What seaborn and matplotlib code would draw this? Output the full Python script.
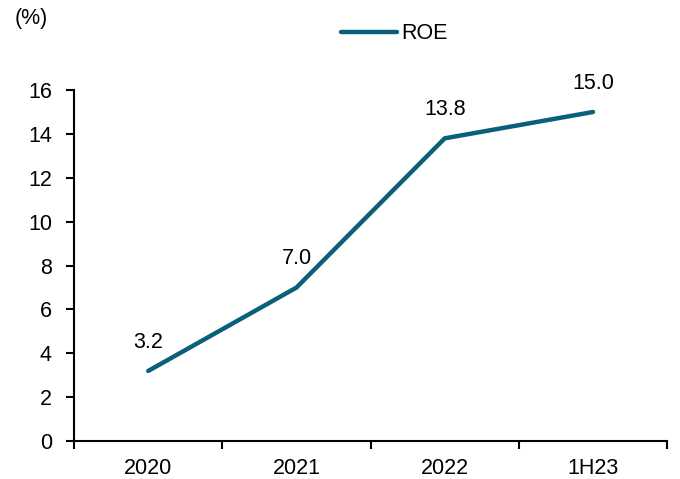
import matplotlib
matplotlib.use("Agg")
import matplotlib.pyplot as plt
import seaborn as sns
import pandas as pd

# Data
periods = ["2020", "2021", "2022", "1H23"]
roe = [3.2, 7.0, 13.8, 15.0]
y_ticks = [0, 2, 4, 6, 8, 10, 12, 14, 16]

df = pd.DataFrame({"period": periods, "ROE": roe})

sns.set_style("white")
plt.rcParams["font.family"] = ["Liberation Sans", "DejaVu Sans"]
plt.rcParams["text.color"] = "black"
plt.rcParams["xtick.color"] = "black"
plt.rcParams["ytick.color"] = "black"

FS = 15.5

fig = plt.figure(figsize=(6.8, 4.79), dpi=100)
ax = fig.add_axes([0.109, 0.079, 0.872, 0.733])

x = list(range(len(periods)))
sns.lineplot(x=x, y=df["ROE"], ax=ax, color="#0b6079", linewidth=3.2,
             label="ROE", solid_capstyle="round")

# value labels
for xi, v in zip(x, roe):
    ax.annotate(f"{v:.1f}", (xi, v), xytext=(0, 13), textcoords="offset points",
                ha="center", va="bottom", fontsize=FS, color="black")

ax.set_xlim(-0.5, len(periods) - 0.5)
ax.set_ylim(0, 16)
ax.set_yticks(y_ticks)
ax.set_xticks(x)
ax.set_xticklabels(periods)
ax.set_xticks([i - 0.5 for i in range(len(periods) + 1)], minor=True)
ax.tick_params(axis="x", which="major", length=0, labelsize=FS, pad=12)
ax.tick_params(axis="x", which="minor", length=6, width=1.5, direction="out", bottom=True)
ax.tick_params(axis="y", length=6, width=1.5, direction="out", left=True, labelsize=FS, pad=10)
ax.set_xlabel("")
ax.set_ylabel("")

for side in ["top", "right"]:
    ax.spines[side].set_visible(False)
for side in ["left", "bottom"]:
    ax.spines[side].set_linewidth(1.5)
    ax.spines[side].set_color("black")

fig.text(0.046, 0.962, "(%)", fontsize=FS, ha="center", va="center")

leg = ax.legend(loc="center", bbox_to_anchor=(0.54, 1.16), frameon=False,
                fontsize=FS, handlelength=2.6, handletextpad=0.2)

fig.savefig("out.png", dpi=100)
